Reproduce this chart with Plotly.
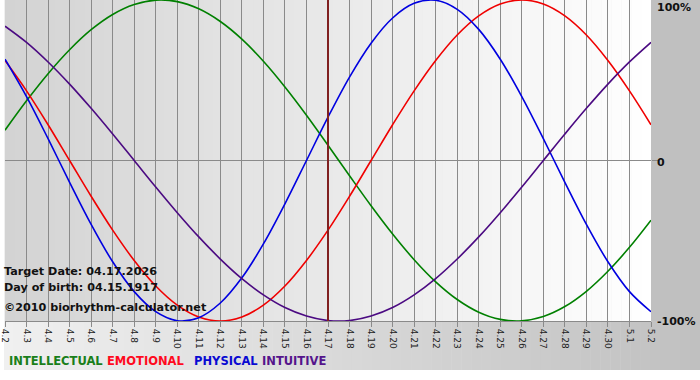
import plotly.graph_objects as go

dates = ["4.2", "4.3", "4.4", "4.5", "4.6", "4.7", "4.8", "4.9", "4.10", "4.11",
         "4.12", "4.13", "4.14", "4.15", "4.16", "4.17", "4.18", "4.19", "4.20",
         "4.21", "4.22", "4.23", "4.24", "4.25", "4.26", "4.27", "4.28", "4.29",
         "4.30", "5.1", "5.2"]

intellectual = [0.189, 0.372, 0.541, 0.690, 0.815, 0.910, 0.972, 0.999, 0.990, 0.945,
                0.866, 0.756, 0.618, 0.458, 0.282, 0.095, -0.095, -0.282, -0.458,
                -0.618, -0.756, -0.866, -0.945, -0.990, -0.999, -0.972, -0.910,
                -0.815, -0.690, -0.541, -0.372]
emotional = [0.623, 0.434, 0.223, 0.000, -0.223, -0.434, -0.623, -0.782, -0.901,
             -0.975, -1.000, -0.975, -0.901, -0.782, -0.623, -0.434, -0.223, 0.000,
             0.223, 0.434, 0.623, 0.782, 0.901, 0.975, 1.000, 0.975, 0.901, 0.782,
             0.623, 0.434, 0.223]
physical = [0.631, 0.398, 0.136, -0.136, -0.398, -0.631, -0.817, -0.942, -0.998,
            -0.979, -0.888, -0.731, -0.520, -0.270, 0.000, 0.270, 0.520, 0.731,
            0.888, 0.979, 0.998, 0.942, 0.817, 0.631, 0.398, 0.136, -0.136, -0.398,
            -0.631, -0.817, -0.942]
intuitive = [0.837, 0.736, 0.614, 0.476, 0.325, 0.165, 0.000, -0.165, -0.325, -0.476,
             -0.614, -0.736, -0.837, -0.916, -0.969, -0.997, -0.997, -0.969, -0.916,
             -0.837, -0.736, -0.614, -0.476, -0.325, -0.165, 0.000, 0.165, 0.325,
             0.476, 0.614, 0.736]

series_names = ["INTELLECTUAL", "EMOTIONAL", "PHYSICAL", "INTUITIVE"]
line_colors = ["#008000", "#f00000", "#0000e0", "#4b0a82"]
label_colors = ["#1a7f1a", "#ff0a1e", "#0a0ad2", "#55148c"]
target_label = "4.17"
info_lines = ["Target Date: 04.17.2026", "Day of birth: 04.15.1917",
              "\u00a92010 biorhythm-calculator.net"]
y_labels = ["100%", "0", "-100%"]

W, H = 700, 380
L, R, T, B = 1, 49, 0, 59
PW, PH = W - L - R, H - T - B


def px(xp):
    return (xp - L) / PW


def py(yp):
    return (H - B - yp) / PH


fig = go.Figure()
for name, vals, col in zip(series_names, [intellectual, emotional, physical, intuitive], line_colors):
    fig.add_trace(go.Scatter(x=dates, y=vals, mode="lines", name=name,
                             line=dict(color=col, width=1.6, shape="spline", smoothing=1.0),
                             showlegend=False, hoverinfo="skip"))

shapes = []
n = 70
for i in range(n):
    x0 = i * W / n
    x1 = (i + 1) * W / n + 0.5
    t = (i + 0.5) / n
    c = int(round(0xf0 + (0xc0 - 0xf0) * t))
    shapes.append(dict(type="rect", xref="paper", yref="paper", x0=px(x0), x1=px(x1),
                       y0=py(370), y1=py(0), fillcolor=f"rgb({c},{c},{c})",
                       line=dict(width=0), layer="below"))
shapes.append(dict(type="rect", xref="paper", yref="paper", x0=px(L + PW), x1=px(W + 1),
                   y0=py(H - B), y1=py(0), fillcolor="#c0c0c0", line=dict(width=0), layer="below"))
m = 65
for i in range(m):
    x0 = L + i * PW / m
    x1 = L + (i + 1) * PW / m + 0.5
    t = (i + 0.5) / m
    c = int(round(0xd3 + (0xff - 0xd3) * t))
    shapes.append(dict(type="rect", xref="paper", yref="paper", x0=px(x0), x1=px(min(x1, L + PW)),
                       y0=0, y1=1, fillcolor=f"rgb({c},{c},{c})",
                       line=dict(width=0), layer="below"))
fig.update_layout(shapes=shapes)

ti = dates.index(target_label)
fig.add_shape(type="line", xref="x", yref="paper", x0=ti, x1=ti, y0=0, y1=1,
              line=dict(color="#802020", width=2), layer="above")

annotations = []
info_y = [271, 287, 307]
for txt, yy in zip(info_lines, info_y):
    annotations.append(dict(text=f"<b>{txt}</b>", xref="paper", yref="paper",
                            x=px(-2), y=py(yy), xanchor="left", yanchor="middle",
                            showarrow=False, font=dict(family="DejaVu Sans", size=11.2, color="#111111")))
legend_x = [3, 102, 189, 258]
for txt, xx, col in zip(series_names, legend_x, label_colors):
    annotations.append(dict(text=f"<b>{txt}</b>", xref="paper", yref="paper",
                            x=px(xx), y=py(361), xanchor="left", yanchor="middle",
                            showarrow=False, font=dict(family="DejaVu Sans", size=11.5, color=col)))
ylab_y = [7, 162, 322]
for txt, yy in zip(y_labels, ylab_y):
    annotations.append(dict(text=f"<b>{txt}</b>", xref="paper", yref="paper",
                            x=px(655), y=py(yy), xanchor="left", yanchor="middle",
                            showarrow=False, font=dict(family="DejaVu Sans", size=11, color="#111111")))
fig.update_layout(annotations=annotations)

fig.update_layout(
    width=W, height=H,
    margin=dict(l=L, r=R, t=T, b=B, pad=0),
    paper_bgcolor="white", plot_bgcolor="rgba(0,0,0,0)",
    xaxis=dict(type="category", range=[0, len(dates) - 1], showgrid=True,
               gridcolor="#8a8a8a", gridwidth=1, ticks="outside", ticklen=5,
               tickcolor="#8a8a8a", tickangle=90, showline=True, linecolor="#8a8a8a",
               linewidth=1, tickfont=dict(family="DejaVu Sans", size=9, color="#222222"),
               zeroline=False, mirror=False),
    yaxis=dict(range=[-1, 1], side="right", tickvals=[0], showticklabels=False,
               ticks="outside", ticklen=7, tickcolor="#8a8a8a", showgrid=True,
               gridcolor="#8a8a8a", gridwidth=1, zeroline=False, showline=False),
)

fig.write_html("out.html")
